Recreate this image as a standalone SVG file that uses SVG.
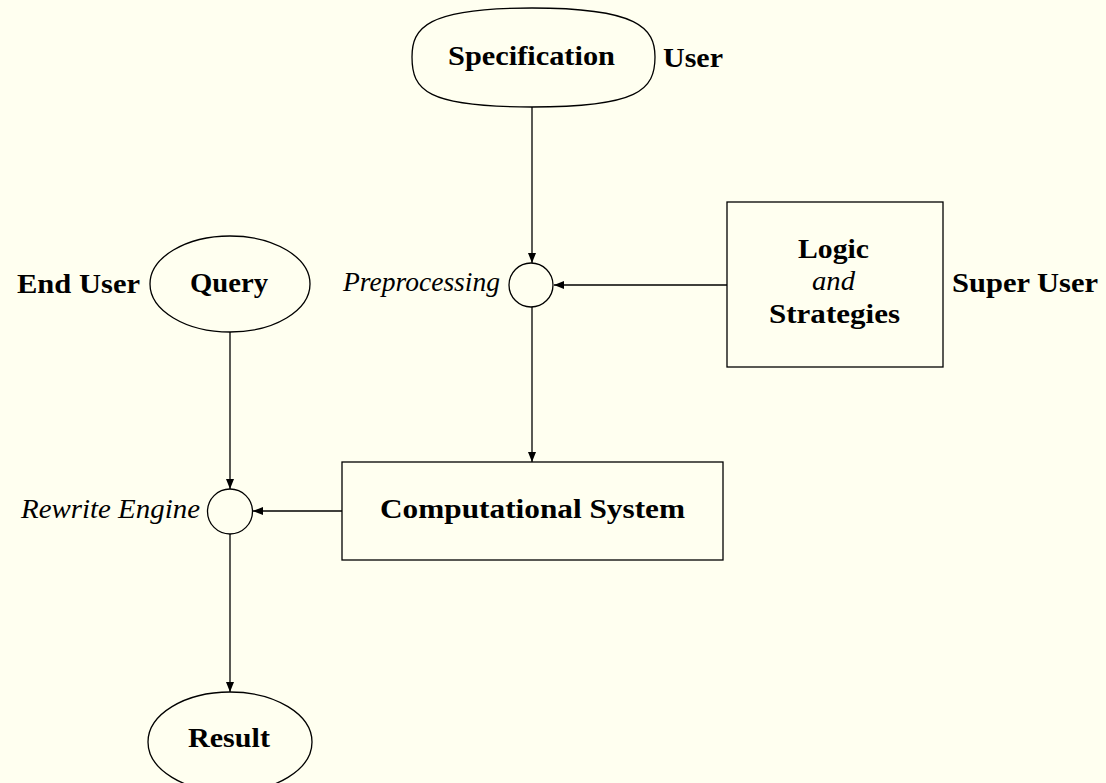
<svg xmlns="http://www.w3.org/2000/svg" width="1106" height="783" viewBox="0 0 1106 783">
<style>
.shape{fill:none;stroke:#000;stroke-width:1.3}
.edge{fill:none;stroke:#000;stroke-width:1.3}
.b{font-family:"Liberation Serif",serif;font-weight:bold;font-size:27px;fill:#000}
.i{font-family:"Liberation Serif",serif;font-style:italic;font-size:27px;fill:#000}
</style>
<defs>
<marker id="arr" markerUnits="userSpaceOnUse" markerWidth="11" markerHeight="9" refX="10" refY="4" orient="auto">
<path d="M0,0 L10,4 L0,8 Z" fill="#000"/>
</marker>
</defs>
<rect width="1106" height="783" fill="#FFFFF0"/>
<g id="connectors">
<line class="edge" x1="532" y1="107" x2="532" y2="263" marker-end="url(#arr)"/>
<line class="edge" x1="727" y1="285" x2="554" y2="285" marker-end="url(#arr)"/>
<line class="edge" x1="532" y1="307" x2="532" y2="462" marker-end="url(#arr)"/>
<line class="edge" x1="342" y1="511" x2="253" y2="511" marker-end="url(#arr)"/>
<line class="edge" x1="230" y1="332" x2="230" y2="489" marker-end="url(#arr)"/>
<line class="edge" x1="230" y1="534" x2="230" y2="692" marker-end="url(#arr)"/>
</g>
<g id="specification">
<path class="shape" d="M532,8 C638,8 655,28 655,57 C655,90 638,107 532,107 C426,107 412,90 412,57 C412,28 426,8 532,8 Z"/>
<text class="b" x="448" y="65" textLength="167" lengthAdjust="spacingAndGlyphs">Specification</text>
</g>
<g id="user-label">
<text class="b" x="663" y="67" textLength="60" lengthAdjust="spacingAndGlyphs">User</text>
</g>
<g id="preprocessing">
<circle class="shape" cx="531" cy="285" r="22"/>
<text class="i" x="343" y="291" textLength="157" lengthAdjust="spacingAndGlyphs">Preprocessing</text>
</g>
<g id="logic">
<rect class="shape" x="727" y="202" width="216" height="165"/>
<text class="b" x="798" y="258" textLength="71" lengthAdjust="spacingAndGlyphs">Logic</text>
<text class="i" x="812" y="290" textLength="43" lengthAdjust="spacingAndGlyphs">and</text>
<text class="b" x="769" y="323" textLength="131" lengthAdjust="spacingAndGlyphs">Strategies</text>
</g>
<g id="super-user-label">
<text class="b" x="952" y="292" textLength="146" lengthAdjust="spacingAndGlyphs">Super User</text>
</g>
<g id="query">
<ellipse class="shape" cx="230" cy="284" rx="80" ry="48"/>
<text class="b" x="190" y="292" textLength="78" lengthAdjust="spacingAndGlyphs">Query</text>
</g>
<g id="end-user-label">
<text class="b" x="17" y="293" textLength="123" lengthAdjust="spacingAndGlyphs">End User</text>
</g>
<g id="computational-system">
<rect class="shape" x="342" y="462" width="381" height="98"/>
<text class="b" x="380" y="518" textLength="305" lengthAdjust="spacingAndGlyphs">Computational System</text>
</g>
<g id="rewrite-engine">
<circle class="shape" cx="230" cy="511.5" r="22.5"/>
<text class="i" x="21" y="518" textLength="179" lengthAdjust="spacingAndGlyphs">Rewrite Engine</text>
</g>
<g id="result">
<ellipse class="shape" cx="230" cy="742" rx="82" ry="50"/>
<text class="b" x="188" y="747" textLength="82" lengthAdjust="spacingAndGlyphs">Result</text>
</g>
</svg>
